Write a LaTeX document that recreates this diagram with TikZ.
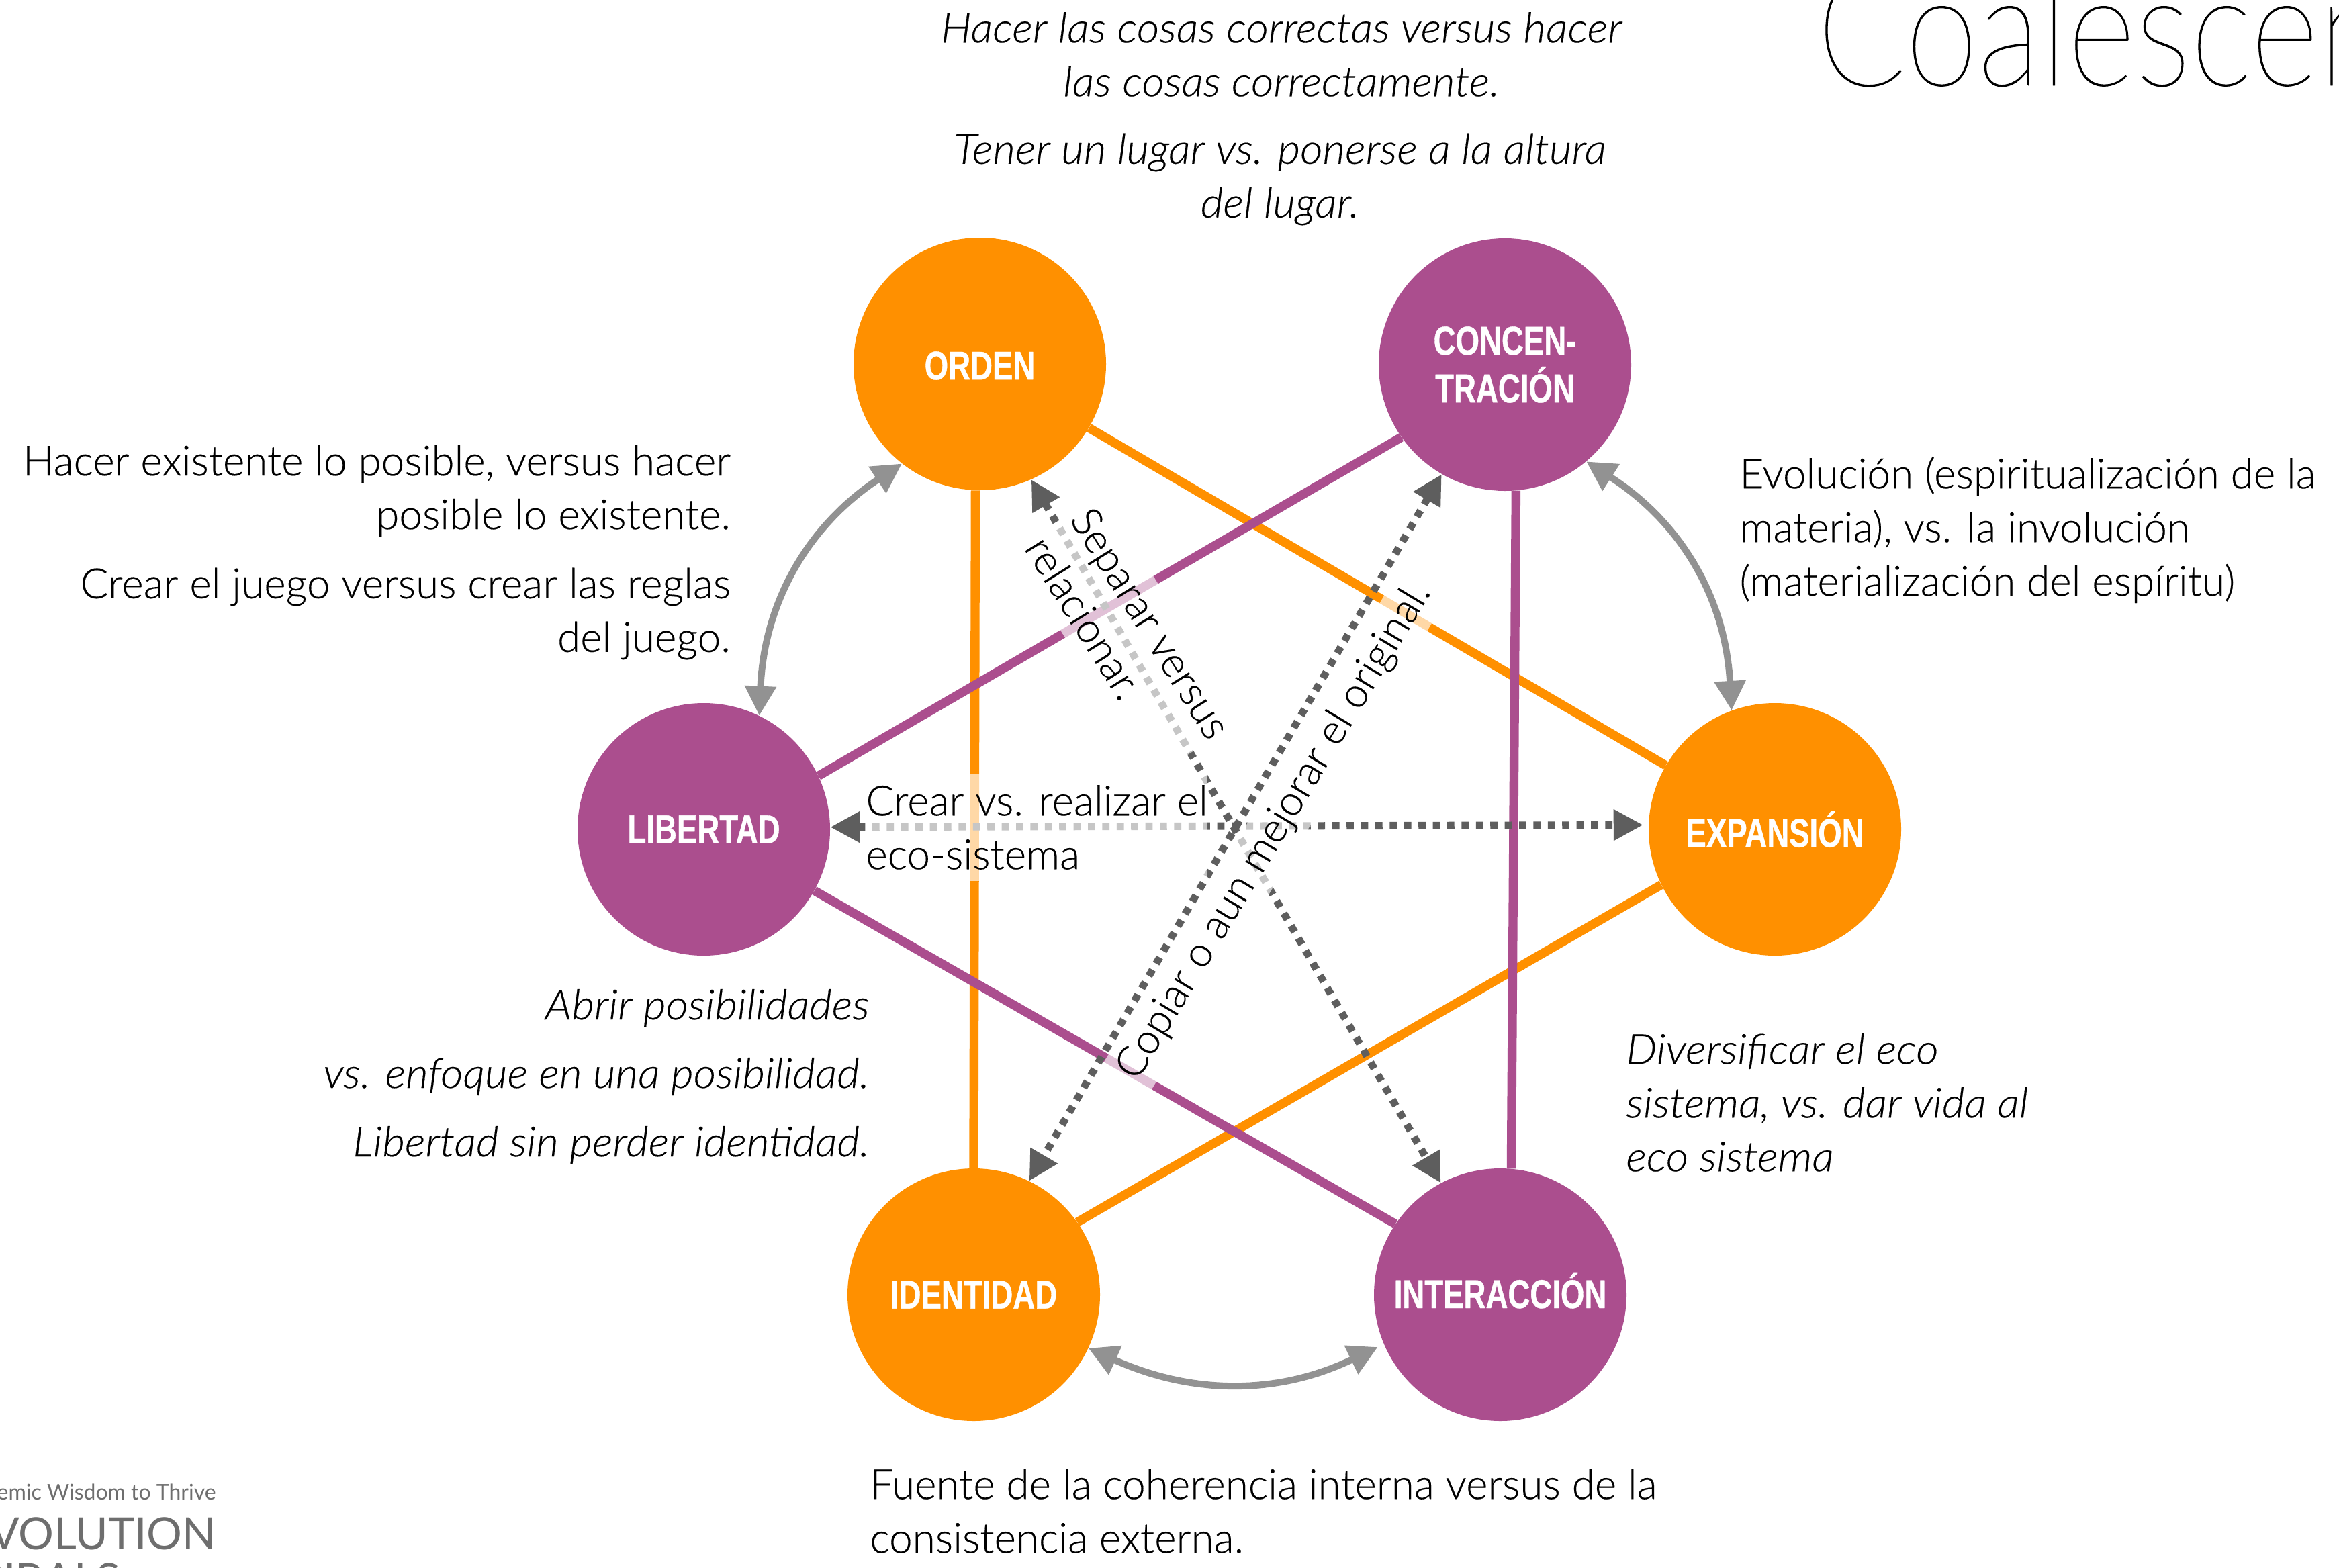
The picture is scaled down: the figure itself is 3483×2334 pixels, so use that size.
\documentclass[tikz,border=0pt]{standalone}
\usepackage{fontspec}
\usetikzlibrary{arrows.meta}
\setmainfont{Lato Light}[FakeBold=0.25,ItalicFont={Lato Light Italic},ItalicFeatures={FakeStretch=1.05,FakeBold=0.25}]
\newfontfamily\condbold[FakeStretch=0.76,BoldFeatures={FakeStretch=0.76,FakeBold=0.6}]{Liberation Sans}
\newfontfamily\titlefont[FakeStretch=0.83,FakeBold=0.4]{Lato Hairline}
\newfontfamily\logofont{Lato}
\definecolor{cOrange}{HTML}{FF9000}
\definecolor{cPurple}{HTML}{AB4E8E}
\definecolor{cDark}{HTML}{5E5E5E}
\definecolor{cGray}{HTML}{929292}
\definecolor{cLogo}{HTML}{6E6E6E}
\tikzset{
  x=.5pt,y=.5pt,
  hub/.style={circle,minimum size=188pt,inner sep=0pt,text=white,align=center,font=\condbold\bfseries\fontsize{30}{35.5}\selectfont},
  hubO/.style={hub,fill=cOrange},
  hubP/.style={hub,fill=cPurple},
  barO/.style={draw=cOrange,line width=6.7pt},
  barP/.style={draw=cPurple,line width=6.7pt},
  dots/.style={draw=cDark,line width=5.5pt,dash pattern=on 5.35pt off 5.35pt,{Triangle[length=22pt,width=22pt]}-{Triangle[length=22pt,width=22pt]}},
  swing/.style={draw=cGray,line width=5pt,{Triangle[length=22pt,width=22.5pt]}-{Triangle[length=22pt,width=22.5pt]}},
  body/.style={font=\fontsize{31}{40}\selectfont,inner sep=0pt},
  note/.style={body,font=\itshape\fontsize{31}{40}\selectfont},
  veil/.style={body,fill=white,fill opacity=.65,text opacity=1,align=left},
}
\begin{document}
\begin{tikzpicture}
\useasboundingbox (0,0) rectangle (3483,-2334);
\clip (0,0) rectangle (3483,-2334);

\node[hubO,text height=23.5pt] (orden) at (1459,-542) {ORDEN};
\node[hubP,yshift=-1pt] (concen) at (2241,-541) {CONCEN-\\TRACIÓN};
\node[hubP] (libertad) at (1048,-1235) {LIBERTAD};
\node[hubO] (expansion) at (2643,-1235) {EXPANSIÓN};
\node[hubO] (identidad) at (1450,-1928) {IDENTIDAD};
\node[hubP,text depth=6.6pt] (interaccion) at (2234,-1928) {INTERACCIÓN};

\draw[barO] (orden) -- (expansion);
\draw[barO] (orden.-92) -- (identidad.90);
\draw[barO] (identidad.35.7) -- (expansion.206.8);
\draw[barP] (concen.215.7) -- (libertad.25.6);
\draw[barP] (concen.-85.7) -- (interaccion.85.1);
\draw[barP] (libertad.-29.3) -- (interaccion.146.3);

\draw[dots] (orden.-66) -- (interaccion.118.7);
\draw[dots] (concen.240.3) -- (identidad.64.4);
\draw[dots,shorten >=4pt] (libertad.1.2) -- (expansion.178.8);

\draw[swing] (orden.232) to[bend right=27] (libertad.64.8);
\draw[swing] (concen.-50) to[bend left=27] (expansion.110);
\draw[swing,shorten >=5pt] (identidad.-25) to[bend right=25] (interaccion.203);

\node[note,align=center] (t1) at (1908,-81) {Hacer las cosas correctas versus hacer\\las cosas correctamente.};
\node[note,align=center] (t2) at (1906,-267) {Tener un lugar vs. ponerse a la altura\\del lugar.};
\node[body,align=right,anchor=east] (t3) at (1088,-731) {Hacer existente lo posible, versus hacer\\posible lo existente.};
\node[body,align=right,anchor=east] (t4) at (1088,-914) {Crear el juego versus crear las reglas\\del juego.};
\node[body,align=left,anchor=west] (t5) at (2590,-789) {Evolución (espiritualización de la\\materia), vs. la involución\\(materialización del espíritu)};
\node[note,align=right,anchor=east] (t6) at (1295,-1603) {Abrir posibilidades\\[11pt]vs. enfoque en una posibilidad.\\[11pt]Libertad sin perder identidad.};
\node[note,align=left,anchor=west] (t7) at (2421,-1642) {Diversificar el eco\\sistema, vs. dar vida al\\eco sistema};
\node[body,align=left,anchor=west] (t8) at (1295,-2250) {Fuente de la coherencia interna versus de la\\consistencia externa.};

\node[veil,anchor=west,minimum height=80pt] (crear) at (1289,-1232) {Crear vs. realizar el\\eco-sistema};
\node[veil,rotate=-58,minimum height=80pt] (separar) at (1680,-949) {Separar versus\\relacionar.};
\node[veil,rotate=59,minimum height=41pt] (copiar) at (1898,-1238) {Copiar o aun mejorar el original.};

\node[anchor=base west,inner sep=0pt,font=\titlefont\fontsize{118}{118}\selectfont] (title) at (2705,-127) {Coalescen};

\node[anchor=base east,inner sep=0pt,text=cLogo,font=\logofont\fontsize{16}{16}\selectfont] (logo1) at (322,-2233) {Systemic Wisdom to Thrive};
\node[anchor=base east,inner sep=0pt,text=cLogo,font=\logofont\fontsize{33}{33}\selectfont] (logo2) at (322,-2307) {EVOLUTION};
\node[anchor=base east,inner sep=0pt,text=cLogo,font=\logofont\fontsize{33}{33}\selectfont] (logo3) at (180,-2375) {SPIRALS};
\end{tikzpicture}
\end{document}
